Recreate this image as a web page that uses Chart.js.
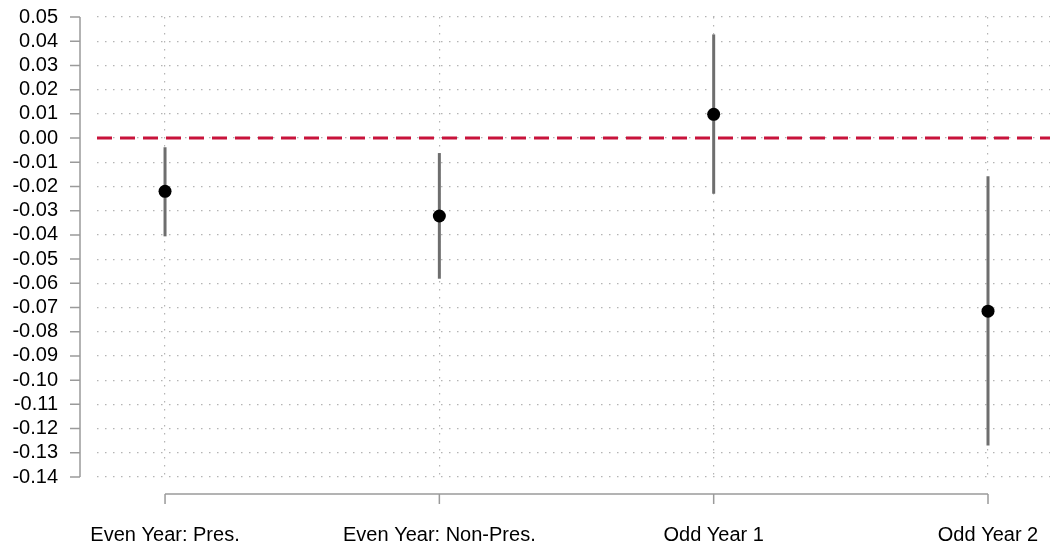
<!DOCTYPE html>
<html>
<head>
<meta charset="utf-8">
<script src="https://cdn.jsdelivr.net/npm/chart.js@4/dist/chart.umd.min.js"></script>
<style>
    html, body { margin: 0; padding: 0; background: #fff; }
    #wrap { width: 1050px; height: 546px; }
</style>
</head>
<body>
<div id="wrap"><canvas id="chart"></canvas></div>
<script>
// values
var categories = ["Even Year: Pres.", "Even Year: Non-Pres.", "Odd Year 1", "Odd Year 2"];
var estimates = [-0.0220, -0.0322, 0.0098, -0.0715];
var lowerCI = [-0.0406, -0.0581, -0.0230, -0.1270];
var upperCI = [-0.0038, -0.0062, 0.0428, -0.0158];
var yTicks = { min: -0.14, max: 0.05, step: 0.01 };

var XMIN = -0.248, XMAX = 3.226;
var FONT = "'Liberation Sans', Arial, Helvetica, sans-serif";

// error bars, one small dataset each
var barSets = [];
for (var i = 0; i < categories.length; i++) {
    barSets.push({
        type: 'line',
        data: [{ x: i, y: lowerCI[i] }, { x: i, y: upperCI[i] }],
        borderColor: '#6e6e6e',
        borderWidth: 3,
        pointRadius: 0,
        order: 2
    });
}

var pointSet = {
    type: 'line',
    data: estimates.map(function (v, i) { return { x: i, y: v }; }),
    showLine: false,
    pointRadius: 6.5,
    pointBackgroundColor: '#000',
    pointBorderColor: '#000',
    pointBorderWidth: 0,
    order: 1
};

var zeroSet = {
    type: 'line',
    data: [{ x: XMIN, y: 0 }, { x: XMAX, y: 0 }],
    borderColor: '#c8133b',
    borderWidth: 3,
    borderDash: [15, 8],
    pointRadius: 0,
    order: 3
};

// R-style axes: detached from the plot region
var axesPlugin = {
    id: 'rAxes',
    afterDraw: function (chart) {
        var ctx = chart.ctx, xs = chart.scales.x, ys = chart.scales.y;
        ctx.save();
        ctx.strokeStyle = '#9a9a9a';
        ctx.lineWidth = 1.5;
        // y axis
        var ax = 80;
        ctx.beginPath();
        ctx.moveTo(ax, ys.getPixelForValue(yTicks.max));
        ctx.lineTo(ax, ys.getPixelForValue(yTicks.min));
        ys.ticks.forEach(function (t) {
            var py = ys.getPixelForValue(t.value);
            ctx.moveTo(ax - 10, py);
            ctx.lineTo(ax, py);
        });
        ctx.stroke();
        // x axis
        var ay = 494;
        ctx.beginPath();
        ctx.moveTo(xs.getPixelForValue(0), ay);
        ctx.lineTo(xs.getPixelForValue(categories.length - 1), ay);
        for (var k = 0; k < categories.length; k++) {
            var px = xs.getPixelForValue(k);
            ctx.moveTo(px, ay);
            ctx.lineTo(px, ay + 10);
        }
        ctx.stroke();
        ctx.restore();
    }
};

new Chart("chart", {
    data: { datasets: [zeroSet].concat(barSets, [pointSet]) },
    options: {
        responsive: true,
        maintainAspectRatio: false,
        animation: false,
        layout: { autoPadding: false, padding: { top: 17, right: 0, left: 0, bottom: 0 } },
        plugins: { legend: { display: false }, tooltip: { enabled: false } },
        scales: {
            x: {
                type: 'linear',
                min: XMIN,
                max: XMAX,
                afterBuildTicks: function (scale) {
                    scale.ticks = categories.map(function (c, i) { return { value: i }; });
                },
                afterFit: function (scale) {
                    scale.height = 69;
                    scale.paddingLeft = 0; scale.paddingRight = 0;
                    scale.paddingTop = 0; scale.paddingBottom = 0;
                },
                ticks: {
                    padding: 46,
                    maxRotation: 0,
                    autoSkip: false,
                    color: '#000',
                    font: { family: FONT, size: 20 },
                    callback: function (v) { return categories[v]; }
                },
                grid: { color: '#b4b4b4', lineWidth: 1.2, drawTicks: false },
                border: { display: false, dash: [1.5, 6.5] }
            },
            y: {
                min: yTicks.min,
                max: yTicks.max,
                afterFit: function (scale) {
                    scale.width = 97;
                    scale.paddingLeft = 0; scale.paddingRight = 0;
                    scale.paddingTop = 0; scale.paddingBottom = 0;
                },
                ticks: {
                    stepSize: yTicks.step,
                    autoSkip: false,
                    padding: 39,
                    color: '#000',
                    font: { family: FONT, size: 20 },
                    callback: function (v) { return v.toFixed(2); }
                },
                grid: { color: '#b4b4b4', lineWidth: 1.2, drawTicks: false },
                border: { display: false, dash: [1.5, 6.5] }
            }
        }
    },
    plugins: [axesPlugin]
});
</script>
</body>
</html>
